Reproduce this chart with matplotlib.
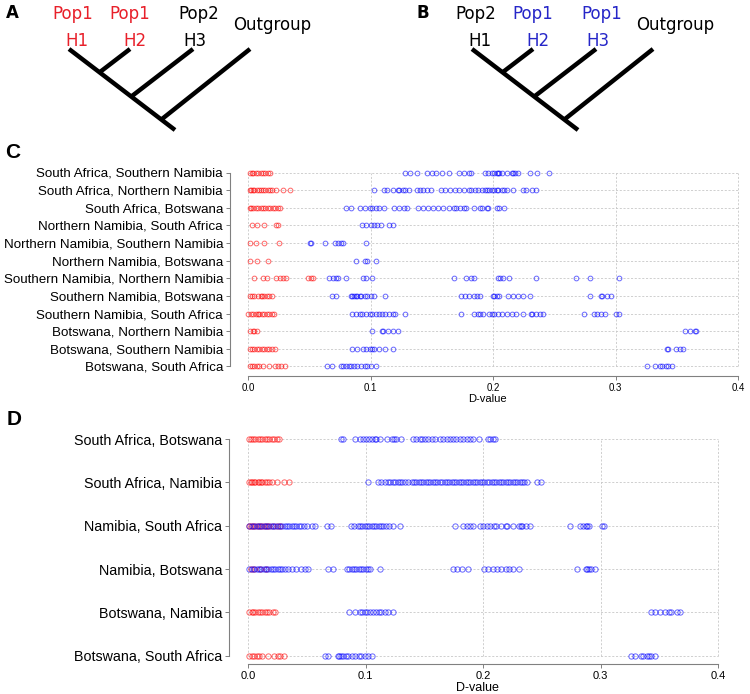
import matplotlib
matplotlib.use('Agg')
import matplotlib.pyplot as plt

W, H, DPI = 750, 694, 100

# ---------------- data ----------------
tree_a_pops = ["Pop1", "Pop1", "Pop2"]
tree_a_tips = ["H1", "H2", "H3"]
tree_a_colors = ["#e8202a", "#e8202a", "black"]
tree_b_pops = ["Pop2", "Pop1", "Pop1"]
tree_b_tips = ["H1", "H2", "H3"]
tree_b_colors = ["black", "#2626c8", "#2626c8"]
outgroup_label = "Outgroup"

c_labels = ["South Africa, Southern Namibia", "South Africa, Northern Namibia",
            "South Africa, Botswana", "Northern Namibia, South Africa",
            "Northern Namibia, Southern Namibia", "Northern Namibia, Botswana",
            "Southern Namibia, Northern Namibia", "Southern Namibia, Botswana",
            "Southern Namibia, South Africa", "Botswana, Northern Namibia",
            "Botswana, Southern Namibia", "Botswana, South Africa"]

c_red = [
    [0.001, 0.003, 0.004, 0.006, 0.008, 0.010, 0.012, 0.014, 0.016, 0.018],
    [0.001, 0.002, 0.004, 0.005, 0.007, 0.009, 0.010, 0.012, 0.014, 0.016, 0.018, 0.019, 0.023, 0.028, 0.034],
    [0.001, 0.002, 0.004, 0.006, 0.008, 0.010, 0.012, 0.014, 0.016, 0.018, 0.020, 0.022, 0.024, 0.026],
    [0.003, 0.007, 0.013, 0.023, 0.024],
    [0.001, 0.006, 0.013, 0.025],
    [0.001, 0.007, 0.016],
    [0.005, 0.012, 0.015, 0.023, 0.026, 0.028, 0.031, 0.049, 0.051, 0.053],
    [0.001, 0.003, 0.005, 0.008, 0.010, 0.011, 0.013, 0.015, 0.017, 0.019],
    [0.000, 0.002, 0.004, 0.006, 0.008, 0.009, 0.011, 0.013, 0.015, 0.017, 0.019, 0.021],
    [0.001, 0.004, 0.005, 0.007],
    [0.001, 0.003, 0.005, 0.007, 0.009, 0.011, 0.013, 0.015, 0.017, 0.019, 0.022],
    [0.001, 0.003, 0.005, 0.007, 0.009, 0.012, 0.017, 0.022, 0.024, 0.027, 0.030],
]

c_blue = [
    [0.128, 0.132, 0.138, 0.146, 0.150, 0.153, 0.158, 0.164, 0.172, 0.176, 0.180, 0.182, 0.193, 0.196,
     0.199, 0.201, 0.203, 0.204, 0.205, 0.207, 0.211, 0.215, 0.216, 0.218, 0.220, 0.230, 0.236, 0.246],
    [0.103, 0.111, 0.113, 0.118, 0.122, 0.123, 0.126, 0.128, 0.131, 0.138, 0.140, 0.143, 0.146, 0.149,
     0.157, 0.161, 0.165, 0.169, 0.172, 0.176, 0.180, 0.182, 0.185, 0.188, 0.191, 0.193, 0.195, 0.197,
     0.199, 0.201, 0.203, 0.204, 0.207, 0.209, 0.211, 0.216, 0.224, 0.227, 0.232, 0.235],
    [0.080, 0.084, 0.091, 0.095, 0.099, 0.101, 0.104, 0.107, 0.111, 0.119, 0.123, 0.127, 0.130, 0.139,
     0.143, 0.147, 0.151, 0.155, 0.159, 0.164, 0.168, 0.170, 0.173, 0.176, 0.178, 0.184, 0.189, 0.191,
     0.195, 0.196, 0.203, 0.205, 0.209],
    [0.093, 0.096, 0.100, 0.103, 0.105, 0.108, 0.115, 0.118],
    [0.050, 0.051, 0.063, 0.071, 0.073, 0.076, 0.077, 0.096],
    [0.088, 0.095, 0.097, 0.104],
    [0.066, 0.069, 0.072, 0.073, 0.080, 0.094, 0.096, 0.101, 0.168, 0.178, 0.182, 0.184, 0.204, 0.206,
     0.208, 0.213, 0.235, 0.268, 0.279, 0.303],
    [0.068, 0.072, 0.084, 0.085, 0.086, 0.088, 0.089, 0.091, 0.092, 0.095, 0.097, 0.100, 0.103, 0.112,
     0.174, 0.177, 0.180, 0.184, 0.187, 0.189, 0.200, 0.201, 0.203, 0.205, 0.212, 0.216, 0.220, 0.224,
     0.230, 0.279, 0.288, 0.289, 0.293, 0.296],
    [0.085, 0.088, 0.091, 0.093, 0.096, 0.099, 0.101, 0.104, 0.107, 0.109, 0.112, 0.115, 0.118, 0.120,
     0.128, 0.174, 0.184, 0.188, 0.189, 0.192, 0.197, 0.199, 0.201, 0.204, 0.207, 0.211, 0.215, 0.219,
     0.224, 0.231, 0.232, 0.235, 0.238, 0.241, 0.274, 0.282, 0.285, 0.288, 0.291, 0.300, 0.303],
    [0.101, 0.109, 0.110, 0.114, 0.118, 0.122, 0.357, 0.361, 0.365, 0.366],
    [0.085, 0.089, 0.094, 0.096, 0.099, 0.101, 0.103, 0.107, 0.112, 0.118, 0.342, 0.343, 0.349, 0.353, 0.355],
    [0.064, 0.068, 0.076, 0.077, 0.080, 0.082, 0.084, 0.086, 0.089, 0.092, 0.095, 0.097, 0.100, 0.104,
     0.326, 0.332, 0.336, 0.338, 0.341, 0.343, 0.346],
]

d_labels = ["South Africa, Botswana", "South Africa, Namibia", "Namibia, South Africa",
            "Namibia, Botswana", "Botswana, Namibia", "Botswana, South Africa"]

d_red = [
    [0.001, 0.002, 0.004, 0.006, 0.008, 0.010, 0.012, 0.014, 0.016, 0.018, 0.020, 0.022, 0.024, 0.026],
    [0.001, 0.002, 0.003, 0.005, 0.006, 0.008, 0.009, 0.011, 0.012, 0.014, 0.016, 0.018, 0.020, 0.024, 0.030, 0.035],
    [0.001, 0.002, 0.004, 0.006, 0.008, 0.010, 0.012, 0.014, 0.016, 0.018, 0.021, 0.024, 0.027],
    [0.002, 0.005, 0.010, 0.015],
    [0.001, 0.003, 0.004, 0.006, 0.008, 0.010, 0.012, 0.014, 0.016, 0.018, 0.021, 0.023],
    [0.001, 0.003, 0.005, 0.007, 0.009, 0.012, 0.017, 0.022, 0.025, 0.027, 0.030],
]

d_blue = [
    [0.079, 0.081, 0.091, 0.095, 0.098, 0.100, 0.103, 0.105, 0.108, 0.109, 0.112, 0.118, 0.122, 0.124,
     0.126, 0.130, 0.140, 0.143, 0.146, 0.148, 0.150, 0.153, 0.156, 0.159, 0.163, 0.166, 0.169, 0.172,
     0.174, 0.177, 0.180, 0.183, 0.186, 0.189, 0.191, 0.196, 0.204, 0.206, 0.208, 0.210],
    [0.102, 0.110, 0.113, 0.116, 0.119, 0.121, 0.123, 0.125, 0.127, 0.129, 0.131, 0.133, 0.136, 0.139,
     0.141, 0.143, 0.145, 0.147, 0.149, 0.151, 0.153, 0.155, 0.157, 0.159, 0.161, 0.163, 0.165, 0.167,
     0.169, 0.171, 0.173, 0.175, 0.177, 0.179, 0.181, 0.183, 0.185, 0.187, 0.189, 0.191, 0.193, 0.195,
     0.197, 0.199, 0.201, 0.203, 0.205, 0.207, 0.209, 0.211, 0.213, 0.215, 0.217, 0.219, 0.221, 0.223,
     0.225, 0.227, 0.229, 0.231, 0.233, 0.235, 0.237, 0.246, 0.249],
    [0.001, 0.003, 0.005, 0.007, 0.009, 0.011, 0.013, 0.015, 0.017, 0.019, 0.021, 0.023, 0.025, 0.027,
     0.029, 0.031, 0.033, 0.035, 0.037, 0.039, 0.041, 0.043, 0.045, 0.047, 0.050, 0.054, 0.057, 0.067,
     0.070, 0.087, 0.090, 0.093, 0.095, 0.097, 0.099, 0.101, 0.103, 0.105, 0.107, 0.109, 0.111, 0.113,
     0.115, 0.117, 0.120, 0.123, 0.129, 0.176, 0.183, 0.186, 0.189, 0.191, 0.197, 0.200, 0.203, 0.206,
     0.209, 0.211, 0.215, 0.219, 0.220, 0.225, 0.230, 0.232, 0.233, 0.236, 0.240, 0.274, 0.282, 0.285,
     0.287, 0.288, 0.290, 0.301, 0.303],
    [0.001, 0.003, 0.005, 0.007, 0.009, 0.011, 0.013, 0.015, 0.017, 0.019, 0.021, 0.023, 0.025, 0.027,
     0.029, 0.031, 0.034, 0.037, 0.041, 0.045, 0.048, 0.051, 0.068, 0.072, 0.084, 0.086, 0.088, 0.090,
     0.092, 0.094, 0.096, 0.098, 0.100, 0.102, 0.104, 0.112, 0.174, 0.178, 0.182, 0.187, 0.201, 0.204,
     0.208, 0.212, 0.215, 0.219, 0.222, 0.225, 0.230, 0.280, 0.287, 0.288, 0.290, 0.292, 0.295],
    [0.086, 0.091, 0.095, 0.097, 0.099, 0.101, 0.104, 0.106, 0.109, 0.111, 0.113, 0.116, 0.119, 0.123,
     0.343, 0.346, 0.350, 0.355, 0.358, 0.360, 0.365, 0.367],
    [0.065, 0.068, 0.076, 0.077, 0.079, 0.081, 0.083, 0.085, 0.088, 0.091, 0.094, 0.096, 0.099, 0.102,
     0.105, 0.326, 0.329, 0.334, 0.336, 0.339, 0.341, 0.343, 0.346],
]

x_ticks = [0.0, 0.1, 0.2, 0.3, 0.4]
x_ticklabels = ["0.0", "0.1", "0.2", "0.3", "0.4"]
x_label = "D-value"

# ---------------- styling ----------------
RED = (1.0, 0.0, 0.0, 0.6)
BLUE = (0.0, 0.0, 1.0, 0.6)
GRID = "#c8c8c8"
SPINE = "#808080"
SANS = ["Liberation Sans", "DejaVu Sans"]

fig = plt.figure(figsize=(W / DPI, H / DPI), dpi=DPI)

# overlay axes in pixel coordinates for trees / panel letters
ov = fig.add_axes([0, 0, 1, 1])
ov.set_xlim(0, W)
ov.set_ylim(H, 0)
ov.axis("off")


def draw_tree(ax, dx, pops, tips, colors):
    tip_x = [69, 130, 193, 250]
    tip_y = 49
    nodes = [(100, 72), (132, 96), (162, 119)]
    root = (175, 130)
    lw = 3.2
    ax.plot([tip_x[0] + dx, root[0] + dx], [tip_y, root[1]], color="black", lw=lw,
            solid_capstyle="butt")
    for tx, (nx, ny) in zip(tip_x[1:], nodes):
        ax.plot([tx + dx, nx + dx], [tip_y, ny], color="black", lw=lw, solid_capstyle="butt")
    pop_x = [73, 130, 199]
    h_x = [77, 135, 195]
    for px, hx, p, t, c in zip(pop_x, h_x, pops, tips, colors):
        ax.text(px + dx, 14, p, color=c, fontsize=12, ha="center", va="center",
                family="DejaVu Sans")
        ax.text(hx + dx, 41, t, color=c, fontsize=12, ha="center", va="center",
                family="DejaVu Sans")
    ax.text(272 + dx, 25, outgroup_label, color="black", fontsize=12, ha="center",
            va="center", family="DejaVu Sans")


draw_tree(ov, 0, tree_a_pops, tree_a_tips, tree_a_colors)
draw_tree(ov, 403, tree_b_pops, tree_b_tips, tree_b_colors)
ov.text(12, 13, "A", fontsize=12, fontweight="bold", ha="center", va="center",
        family="DejaVu Sans")
ov.text(423, 13, "B", fontsize=12, fontweight="bold", ha="center", va="center",
        family="DejaVu Sans")
ov.text(13, 152, "C", fontsize=15, fontweight="bold", ha="center", va="center", family=SANS)
ov.text(14, 419, "D", fontsize=15, fontweight="bold", ha="center", va="center", family=SANS)


def make_panel(box, x0px, x4px, row_top, row_bot, labels, reds, blues,
               ylab_fs, xtick_fs, xlab_fs, ms):
    left, top, right, bottom = box
    ax = fig.add_axes([left / W, 1 - bottom / H, (right - left) / W, (bottom - top) / H])
    n = len(labels)
    scale = (x4px - x0px) / 0.4
    ax.set_xlim(-(x0px - left) / scale, 0.4 + (right - x4px) / scale)
    step = (row_bot - row_top) / (n - 1)
    ax.set_ylim(1 - (bottom - row_bot) / step, n + (row_top - top) / step)
    rows = [n - i for i in range(n)]
    gls = (0, (2.5, 2.0))
    ax.hlines(rows, 0, 0.4, colors=GRID, linestyles=gls, lw=0.6, zorder=0)
    ax.vlines(x_ticks, 1, n, colors=GRID, linestyles=gls, lw=0.6, zorder=0)
    for y, r, b in zip(rows, reds, blues):
        ax.plot(r, [y] * len(r), "o", mfc="none", mec=RED, ms=ms, mew=0.7, zorder=2)
        ax.plot(b, [y] * len(b), "o", mfc="none", mec=BLUE, ms=ms, mew=0.7, zorder=3)
    for s in ("top", "right"):
        ax.spines[s].set_visible(False)
    ax.patch.set_visible(False)
    ax.spines["left"].set_bounds(1, n)
    ax.spines["bottom"].set_bounds(0, 0.4)
    for s in ("left", "bottom"):
        ax.spines[s].set_color(SPINE)
        ax.spines[s].set_linewidth(0.8)
    ax.set_yticks(rows)
    ax.set_yticklabels(labels, fontsize=ylab_fs, family=SANS)
    ax.set_xticks(x_ticks)
    ax.set_xticklabels(x_ticklabels, fontsize=xtick_fs, family=SANS)
    ax.tick_params(axis="both", length=3, width=0.7, color=SPINE, pad=2)
    ax.set_xlabel(x_label, fontsize=xlab_fs, family=SANS, labelpad=1)
    return ax


make_panel((230, 163, 745, 376), 248.3, 738.0, 172.5, 366.5, c_labels, c_red, c_blue,
           9.6, 7, 8, 3.4)
make_panel((229, 430, 725, 664), 248.3, 718.3, 439.0, 655.7, d_labels, d_red, d_blue,
           10.3, 8, 9, 3.8)

fig.savefig("out.png", dpi=DPI)
